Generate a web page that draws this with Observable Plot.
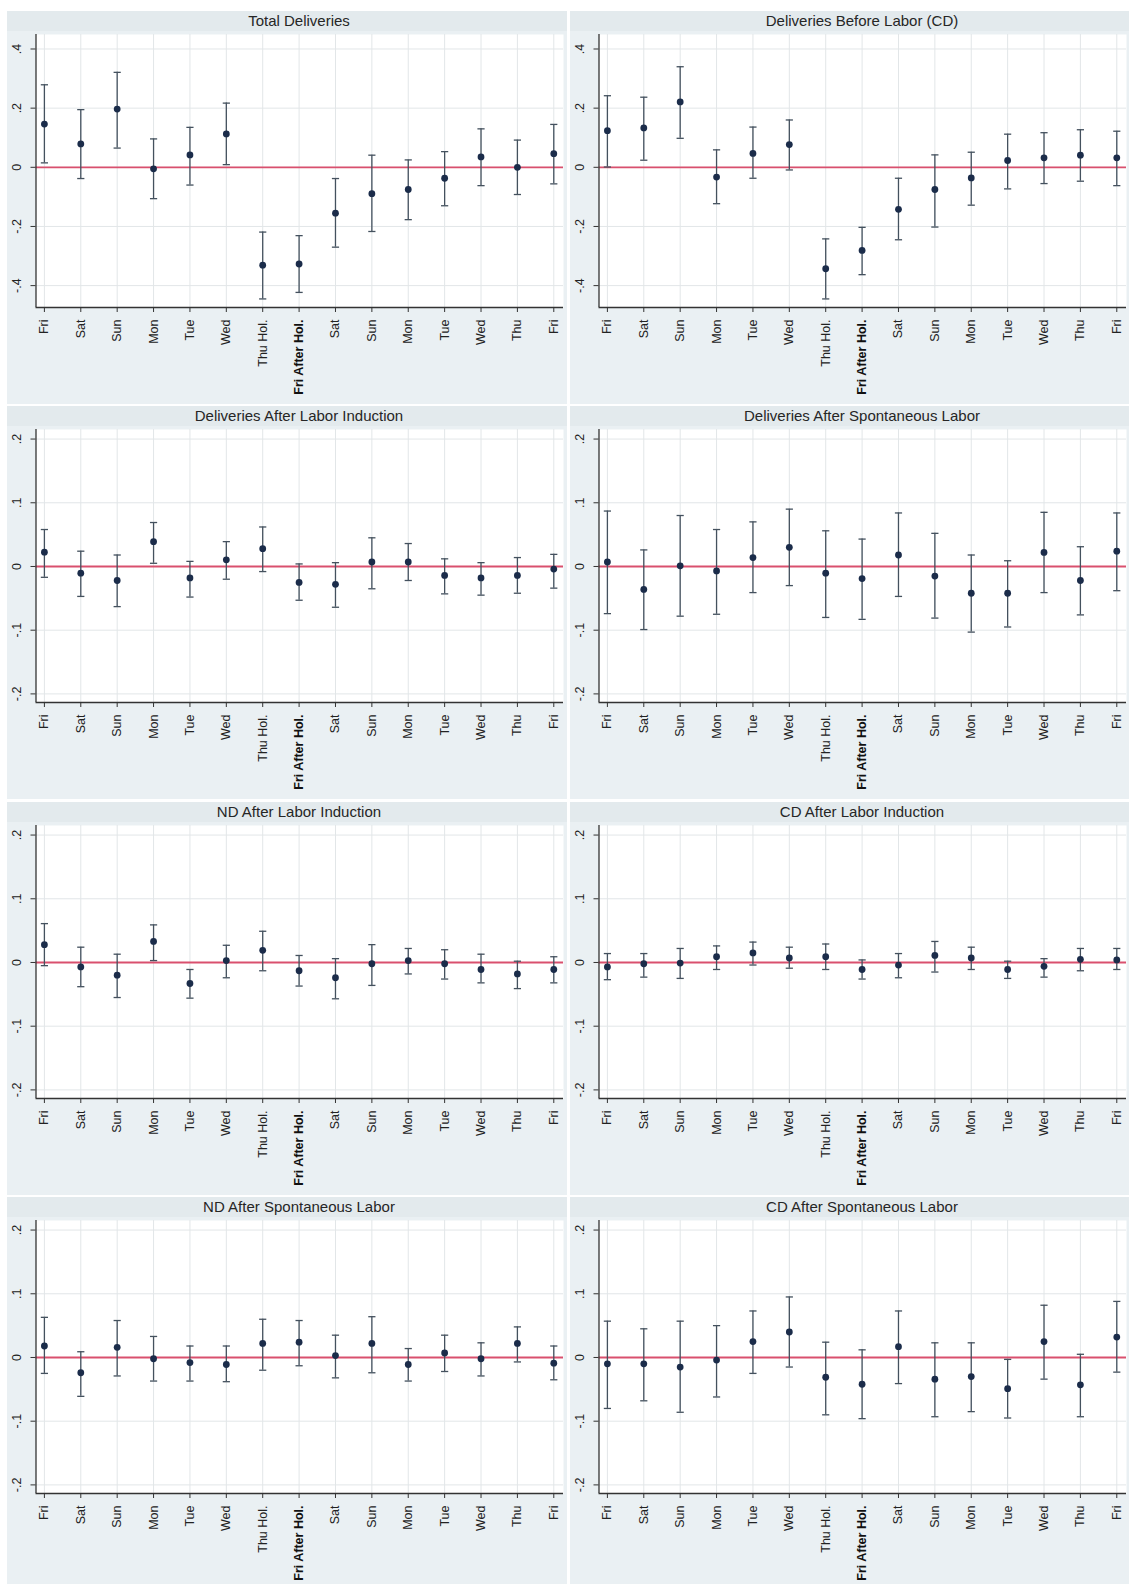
<!DOCTYPE html>
<html>
<head>
<meta charset="utf-8">
<script src="https://cdn.jsdelivr.net/npm/d3@7"></script>
<script src="https://cdn.jsdelivr.net/npm/@observablehq/plot@0.6"></script>
<style>
  html, body { margin: 0; padding: 0; background: #ffffff; }
  body { width: 1129px; height: 1584px; overflow: hidden; position: relative;
         font-family: "Liberation Sans", Arial, sans-serif; }
  .panel { position: absolute; width: 560px; height: 393px; background: #eaf0f3; overflow: hidden; }
  .ttl { height: 20px; line-height: 20px; background: #e3eaed; font-size: 15px; color: #262626;
         text-align: center; box-sizing: border-box; padding-left: 28px; padding-right: 4px; white-space: nowrap; }
  .panel svg { display: block; }
</style>
</head>
<body>
<script>
// ---- categories & tick labels ----
const dayLabels = ["Fri","Sat","Sun","Mon","Tue","Wed","Thu Hol.","Fri After Hol.","Sat","Sun","Mon","Tue","Wed","Thu","Fri"];
const boldLabelIndex = 7;
const yTicksTotal = [-0.4, -0.2, 0, 0.2, 0.4];
const yTicksSub = [-0.2, -0.1, 0, 0.1, 0.2];

const panelTitles = [
  "Total Deliveries",
  "Deliveries Before Labor (CD)",
  "Deliveries After Labor Induction",
  "Deliveries After Spontaneous Labor",
  "ND After Labor Induction",
  "CD After Labor Induction",
  "ND After Spontaneous Labor",
  "CD After Spontaneous Labor"
];

// ---- series values (estimate, lower CI, upper CI) ----
const totalEst = [0.146, 0.079, 0.197, -0.005, 0.042, 0.113, -0.331, -0.327, -0.155, -0.089, -0.075, -0.037, 0.035, 0.000, 0.046];
const totalLo  = [0.015, -0.038, 0.065, -0.106, -0.060, 0.009, -0.445, -0.423, -0.270, -0.217, -0.177, -0.130, -0.062, -0.092, -0.056];
const totalHi  = [0.279, 0.195, 0.321, 0.096, 0.135, 0.217, -0.219, -0.231, -0.038, 0.041, 0.025, 0.053, 0.130, 0.092, 0.145];

const beforeEst = [0.124, 0.133, 0.221, -0.033, 0.047, 0.077, -0.343, -0.281, -0.142, -0.075, -0.036, 0.023, 0.032, 0.041, 0.032];
const beforeLo  = [0.001, 0.024, 0.098, -0.123, -0.037, -0.009, -0.445, -0.363, -0.245, -0.202, -0.128, -0.073, -0.055, -0.047, -0.062];
const beforeHi  = [0.242, 0.237, 0.340, 0.059, 0.136, 0.160, -0.242, -0.203, -0.037, 0.042, 0.051, 0.112, 0.117, 0.127, 0.122];

const inducEst = [0.0225, -0.0105, -0.022, 0.039, -0.018, 0.0105, 0.028, -0.025, -0.028, 0.007, 0.007, -0.014, -0.018, -0.014, -0.004];
const inducLo  = [-0.017, -0.047, -0.063, 0.005, -0.048, -0.020, -0.008, -0.053, -0.064, -0.035, -0.022, -0.043, -0.045, -0.042, -0.034];
const inducHi  = [0.058, 0.024, 0.018, 0.069, 0.008, 0.039, 0.062, 0.004, 0.006, 0.045, 0.036, 0.012, 0.006, 0.014, 0.019];

const spontEst = [0.007, -0.036, 0.001, -0.007, 0.014, 0.030, -0.0105, -0.019, 0.018, -0.015, -0.042, -0.042, 0.022, -0.022, 0.024];
const spontLo  = [-0.074, -0.099, -0.078, -0.075, -0.041, -0.030, -0.080, -0.083, -0.047, -0.081, -0.103, -0.095, -0.041, -0.076, -0.038];
const spontHi  = [0.087, 0.026, 0.080, 0.058, 0.070, 0.090, 0.056, 0.043, 0.084, 0.052, 0.018, 0.009, 0.085, 0.031, 0.084];

const ndInducEst = [0.028, -0.007, -0.020, 0.033, -0.033, 0.003, 0.019, -0.013, -0.024, -0.002, 0.003, -0.002, -0.011, -0.018, -0.011];
const ndInducLo  = [-0.005, -0.038, -0.055, 0.003, -0.056, -0.024, -0.013, -0.037, -0.057, -0.036, -0.018, -0.026, -0.032, -0.041, -0.032];
const ndInducHi  = [0.061, 0.024, 0.013, 0.059, -0.011, 0.027, 0.049, 0.011, 0.006, 0.028, 0.022, 0.020, 0.013, 0.002, 0.009];

const cdInducEst = [-0.007, -0.002, -0.001, 0.009, 0.015, 0.007, 0.009, -0.011, -0.004, 0.011, 0.007, -0.011, -0.006, 0.005, 0.004];
const cdInducLo  = [-0.027, -0.023, -0.025, -0.011, -0.004, -0.009, -0.011, -0.026, -0.024, -0.015, -0.011, -0.025, -0.023, -0.013, -0.011];
const cdInducHi  = [0.014, 0.014, 0.022, 0.026, 0.032, 0.024, 0.029, 0.004, 0.014, 0.033, 0.024, 0.002, 0.006, 0.022, 0.022];

const ndSpontEst = [0.018, -0.024, 0.016, -0.002, -0.008, -0.011, 0.022, 0.024, 0.003, 0.022, -0.011, 0.007, -0.002, 0.022, -0.009];
const ndSpontLo  = [-0.025, -0.061, -0.029, -0.037, -0.037, -0.038, -0.020, -0.013, -0.032, -0.024, -0.037, -0.022, -0.029, -0.007, -0.035];
const ndSpontHi  = [0.063, 0.009, 0.058, 0.033, 0.018, 0.018, 0.060, 0.058, 0.035, 0.064, 0.014, 0.035, 0.023, 0.048, 0.018];

const cdSpontEst = [-0.010, -0.010, -0.015, -0.004, 0.025, 0.040, -0.031, -0.042, 0.017, -0.034, -0.030, -0.049, 0.025, -0.043, 0.032];
const cdSpontLo  = [-0.080, -0.068, -0.086, -0.062, -0.025, -0.015, -0.090, -0.096, -0.041, -0.093, -0.085, -0.095, -0.034, -0.093, -0.023];
const cdSpontHi  = [0.057, 0.045, 0.057, 0.050, 0.073, 0.095, 0.024, 0.012, 0.073, 0.023, 0.023, -0.003, 0.082, 0.005, 0.088];

const panelSeries = [
  [totalEst, totalLo, totalHi],
  [beforeEst, beforeLo, beforeHi],
  [inducEst, inducLo, inducHi],
  [spontEst, spontLo, spontHi],
  [ndInducEst, ndInducLo, ndInducHi],
  [cdInducEst, cdInducLo, cdInducHi],
  [ndSpontEst, ndSpontLo, ndSpontHi],
  [cdSpontEst, cdSpontLo, cdSpontHi]
];

// ---- styling ----
const FONT = "Liberation Sans, Arial, sans-serif";
const errColor = "#44515e";
const dotColor = "#1b2c4a";
const gridColor = "#e2e6e8";
const zeroColor = "#d9506e";
const axisColor = "#333333";

const capSymbol = {
  draw(context, size) {
    const w = Math.sqrt(size / Math.PI);
    context.moveTo(-w, 0);
    context.lineTo(w, 0);
  }
};

function stataFmt(v) {
  if (Math.abs(v) < 1e-9) return "0";
  const s = Math.abs(v).toFixed(1).replace(/^0/, "");
  return (v < 0 ? "-" : "") + s;
}

const xDomain = [-0.231, 14.267];
const normalIdx = d3.range(dayLabels.length).filter(i => i !== boldLabelIndex);

function makePanel(k) {
  const [est, lo, hi] = panelSeries[k];
  const isTop = k < 2;
  const yDomain = isTop ? [-0.474, 0.449] : [-0.2135, 0.215];
  const yTicks = isTop ? yTicksTotal : yTicksSub;
  const data = dayLabels.map((label, i) => ({ i, label, est: est[i], lo: lo[i], hi: hi[i] }));

  const svg = Plot.plot({
    width: 560,
    height: 373,
    marginLeft: 28.5,
    marginRight: 4,
    marginTop: 3,
    marginBottom: 97,
    style: { background: "transparent", fontFamily: FONT, fontSize: "12.5px", color: "#222", overflow: "visible" },
    x: { domain: xDomain, axis: null },
    y: { domain: yDomain, axis: null },
    marks: [
      Plot.frame({ fill: "white", stroke: null }),
      Plot.gridX(d3.range(dayLabels.length), { stroke: gridColor, strokeOpacity: 1 }),
      Plot.gridY(yTicks, { stroke: gridColor, strokeOpacity: 1 }),
      Plot.ruleY([0], { stroke: zeroColor, strokeWidth: 1.8 }),
      Plot.ruleX(data, { x: "i", y1: "lo", y2: "hi", stroke: errColor, strokeWidth: 1.3 }),
      Plot.dot(data, { x: "i", y: "lo", symbol: capSymbol, r: 3.6, stroke: errColor, strokeWidth: 1.3, fill: "none" }),
      Plot.dot(data, { x: "i", y: "hi", symbol: capSymbol, r: 3.6, stroke: errColor, strokeWidth: 1.3, fill: "none" }),
      Plot.dot(data, { x: "i", y: "est", r: 3.4, fill: dotColor, stroke: "none" }),
      Plot.ruleX([xDomain[0]], { stroke: axisColor, strokeWidth: 1.3 }),
      Plot.ruleY([yDomain[0]], { stroke: axisColor, strokeWidth: 1.3 }),
      Plot.axisY(yTicks, {
        anchor: "left", tickSize: 5, tickPadding: 10, tickRotate: -90,
        textAnchor: "middle", lineAnchor: "bottom",
        tickFormat: stataFmt, stroke: axisColor, fill: "#222", fontSize: 12.5, label: null
      }),
      Plot.axisX(normalIdx, {
        anchor: "bottom", tickSize: 5, tickPadding: 7, tickRotate: -90,
        textAnchor: "end", lineAnchor: "middle",
        tickFormat: i => dayLabels[i], stroke: axisColor, fill: "#222", fontSize: 12.5, label: null
      }),
      Plot.axisX([boldLabelIndex], {
        anchor: "bottom", tickSize: 5, tickPadding: 7, tickRotate: -90,
        textAnchor: "end", lineAnchor: "middle", fontWeight: "bold",
        tickFormat: i => dayLabels[i], stroke: axisColor, fill: "#111", fontSize: 12.5, label: null
      })
    ]
  });

  const div = document.createElement("div");
  div.className = "panel";
  const row = Math.floor(k / 2), col = k % 2;
  div.style.left = (7 + col * 563) + "px";
  div.style.top = (11 + row * 395.3) + "px";
  const t = document.createElement("div");
  t.className = "ttl";
  t.textContent = panelTitles[k];
  div.appendChild(t);
  div.appendChild(svg);
  document.body.appendChild(div);
}

for (let k = 0; k < panelTitles.length; k++) makePanel(k);
</script>
</body>
</html>
